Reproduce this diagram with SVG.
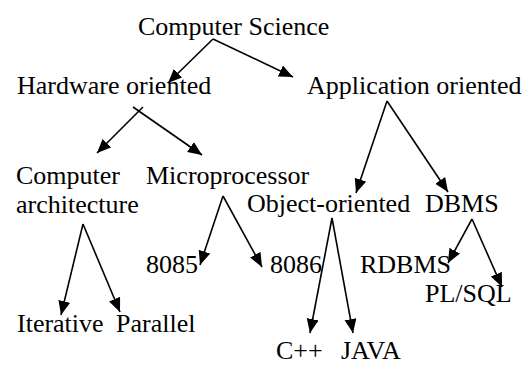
<svg xmlns="http://www.w3.org/2000/svg" width="526" height="365" viewBox="0 0 526 365">
<defs>
<marker id="ah" markerUnits="userSpaceOnUse" markerWidth="15" markerHeight="13" refX="14" refY="6" orient="auto">
<path d="M0,0 L14,6 L0,12 z" fill="#000"/>
</marker>
</defs>
<rect width="526" height="365" fill="#fff"/>
<g id="connectors" stroke="#000" stroke-width="1.6" marker-end="url(#ah)">
<line x1="213" y1="39" x2="168" y2="83"/>
<line x1="213" y1="39" x2="293" y2="77"/>
<line x1="143" y1="107" x2="97" y2="153"/>
<line x1="133" y1="107" x2="202" y2="155"/>
<line x1="387" y1="101" x2="356" y2="193"/>
<line x1="387" y1="101" x2="448" y2="192"/>
<line x1="223" y1="196" x2="200" y2="265"/>
<line x1="223" y1="196" x2="262" y2="267"/>
<line x1="83" y1="224" x2="61" y2="315"/>
<line x1="83" y1="224" x2="120" y2="312"/>
<line x1="332" y1="218" x2="310" y2="333"/>
<line x1="332" y1="218" x2="353" y2="333"/>
<line x1="472" y1="219" x2="448" y2="263"/>
<line x1="472" y1="219" x2="502" y2="287"/>
</g>
<g id="n-cs"><text x="138" y="35" font-family="Times New Roman" font-size="26">Computer Science</text></g>
<g id="n-hw"><text x="17" y="94" font-family="Times New Roman" font-size="26">Hardware oriented</text></g>
<g id="n-app"><text x="307" y="94" font-family="Times New Roman" font-size="26">Application oriented</text></g>
<g id="n-ca"><text x="16" y="184" font-family="Times New Roman" font-size="26">Computer</text><text x="16" y="213" font-family="Times New Roman" font-size="26">architecture</text></g>
<g id="n-mp"><text x="146" y="184" font-family="Times New Roman" font-size="26">Microprocessor</text></g>
<g id="n-oo"><text x="247" y="212" font-family="Times New Roman" font-size="26">Object-oriented</text></g>
<g id="n-dbms"><text x="425" y="212" font-family="Times New Roman" font-size="26">DBMS</text></g>
<g id="n-8085"><text x="146" y="273" font-family="Times New Roman" font-size="26">8085</text></g>
<g id="n-8086"><text x="270" y="273" font-family="Times New Roman" font-size="26">8086</text></g>
<g id="n-rdbms"><text x="360" y="273" font-family="Times New Roman" font-size="26">RDBMS</text></g>
<g id="n-plsql"><text x="425" y="302" font-family="Times New Roman" font-size="26">PL/SQL</text></g>
<g id="n-iter"><text x="17" y="332" font-family="Times New Roman" font-size="26">Iterative</text></g>
<g id="n-par"><text x="116" y="332" font-family="Times New Roman" font-size="26">Parallel</text></g>
<g id="n-cpp"><text x="276" y="359" font-family="Times New Roman" font-size="26">C++</text></g>
<g id="n-java"><text x="341" y="359" font-family="Times New Roman" font-size="26">JAVA</text></g>
</svg>
